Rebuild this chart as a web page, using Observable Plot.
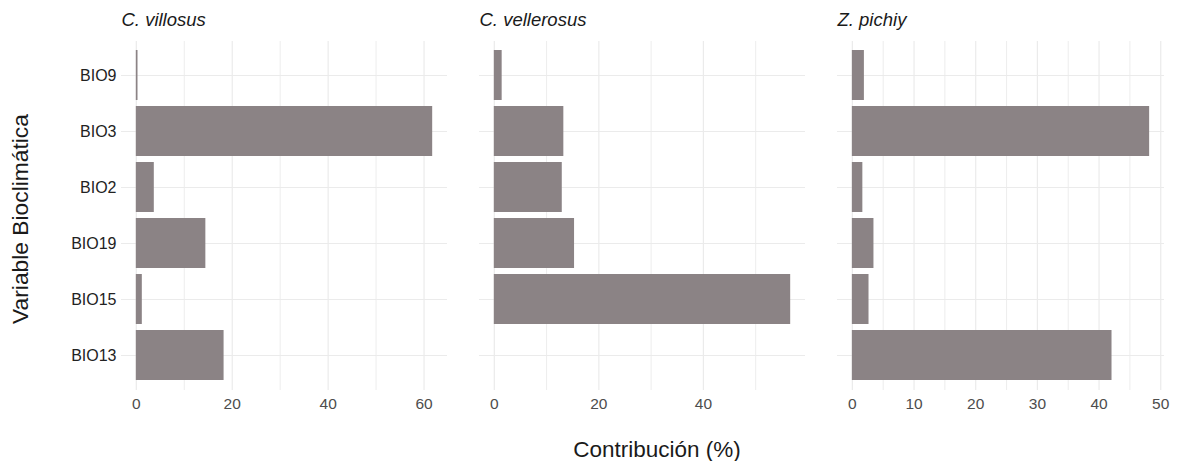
<!DOCTYPE html>
<html>
<head>
<meta charset="utf-8">
<script src="https://cdn.jsdelivr.net/npm/d3@7"></script>
<script src="https://cdn.jsdelivr.net/npm/@observablehq/plot@0.6"></script>
<style>
  html, body { margin: 0; padding: 0; background: #fff; }
  #root { position: relative; width: 1180px; height: 461px; overflow: hidden; font-family: "Liberation Sans", Arial, sans-serif; }
  .panel { position: absolute; top: 0; }
  .xtitle { position: absolute; left: 657px; top: 450px; transform: translate(-50%, -50%); font-size: 22.5px; color: #1a1a1a; white-space: nowrap; }
  .ytitle { position: absolute; left: 20px; top: 219px; transform: translate(-50%, -50%) rotate(-90deg); font-size: 22.8px; color: #1a1a1a; white-space: nowrap; }
</style>
</head>
<body>
<div id="root"></div>
<script>
const variables = ["BIO9", "BIO3", "BIO2", "BIO19", "BIO15", "BIO13"];
const species = ["C. villosus", "C. vellerosus", "Z. pichiy"];
const villosus = [0.35, 61.8, 3.75, 14.5, 1.25, 18.3];
const vellerosus = [1.5, 13.3, 13.0, 15.35, 56.7, 0];
const pichiy = [1.95, 48.2, 1.7, 3.5, 2.7, 42.1];
const majorTicks = [[0, 20, 40, 60], [0, 20, 40], [0, 10, 20, 30, 40, 50]];
const minorTicks = [[10, 30, 50], [10, 30, 50], [5, 15, 25, 35, 45]];
const xTitle = "Contribución (%)";
const yTitle = "Variable Bioclimática";

const seriesList = [villosus, vellerosus, pichiy];
const layout = [
  {left: 0, marginLeft: 121, width: 459},
  {left: 469, marginLeft: 10, width: 348},
  {left: 827, marginLeft: 10, width: 349}
];

const root = document.getElementById("root");

species.forEach((sp, i) => {
  const values = seriesList[i];
  const data = variables.map((v, j) => ({variable: v, value: values[j]}));
  const mx = d3.max(values);
  const L = layout[i];
  const marks = [
    Plot.gridY({stroke: "#ebebeb", strokeOpacity: 1, strokeWidth: 1.2}),
    Plot.gridX({ticks: minorTicks[i], stroke: "#ebebeb", strokeOpacity: 1, strokeWidth: 0.9}),
    Plot.gridX({ticks: majorTicks[i], stroke: "#ebebeb", strokeOpacity: 1, strokeWidth: 1.2}),
    Plot.barX(data, {x: "value", y: "variable", fill: "#8b8385"}),
    Plot.axisX({ticks: majorTicks[i], tickSize: 0, tickPadding: 7, fontSize: 15.5, color: "#4d4d4d", label: null}),
    Plot.text([sp], {text: d => d, frameAnchor: "top-left", dy: -21, lineAnchor: "middle", textAnchor: "start", fontStyle: "italic", fontSize: 18.5, fill: "#1a1a1a"})
  ];
  if (i === 0) {
    marks.push(Plot.axisY({tickSize: 0, tickPadding: 5, fontSize: 16, color: "#222222", label: null}));
  } else {
    marks.push(Plot.axisY({ticks: [], label: null}));
  }
  const chart = Plot.plot({
    width: L.width,
    height: 420,
    marginLeft: L.marginLeft,
    marginRight: 12,
    marginTop: 41,
    marginBottom: 30,
    style: {fontFamily: "Liberation Sans, Arial, sans-serif", background: "transparent", overflow: "visible"},
    x: {domain: [-0.05 * mx, 1.05 * mx]},
    y: {domain: variables, paddingInner: 0.1, paddingOuter: 0.15},
    marks
  });
  const wrap = document.createElement("div");
  wrap.className = "panel";
  wrap.style.left = L.left + "px";
  wrap.appendChild(chart);
  root.appendChild(wrap);
});

const xt = document.createElement("div");
xt.className = "xtitle";
xt.textContent = xTitle;
root.appendChild(xt);
const yt = document.createElement("div");
yt.className = "ytitle";
yt.textContent = yTitle;
root.appendChild(yt);
</script>
</body>
</html>
